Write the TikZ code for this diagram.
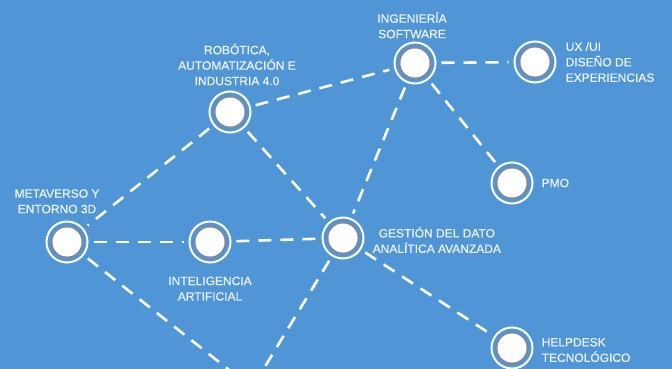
\documentclass[tikz,border=0pt]{standalone}
\usepackage{fontspec}
\setmainfont{Liberation Sans}
\usetikzlibrary{positioning}
\definecolor{figFondo}{RGB}{80,150,215}
\definecolor{figAnillo}{RGB}{120,138,168}
\definecolor{figTexto}{RGB}{238,243,250}
\tikzset{
  nodo/.style={
    circle, draw=white, line width=2pt, fill=figFondo, minimum size=41pt,
    inner sep=0pt, outer sep=6pt,
    path picture={
      \fill[figAnillo] (path picture bounding box.center) circle (17pt);
      \fill[white] (path picture bounding box.center) circle (14.5pt);
    }
  },
  enlace/.style={draw=white, line width=2.6pt, dash pattern=on 13pt off 9pt},
  etiqueta/.style={
    text=figTexto, inner sep=0pt,
    font=\fontsize{12}{15.5}\selectfont\addfontfeature{FakeBold=0.6}
  }
}
\begin{document}
\begin{tikzpicture}[x=1pt, y=-1pt]
  \fill[figFondo] (0,0) rectangle (672,369);
  \useasboundingbox (0,0) rectangle (672,369);
  \clip (0,0) rectangle (672,369);

  \node[nodo] (rob) at (230,112) {};
  \node[nodo] (ing) at (415,63) {};
  \node[nodo] (ux) at (535,62) {};
  \node[nodo] (pmo) at (512,183) {};
  \node[nodo] (meta) at (67,242) {};
  \node[nodo] (ia) at (210,242) {};
  \node[nodo] (dato) at (343,238) {};
  \node[nodo] (help) at (512,348) {};
  \coordinate (abajo) at (252,388);

  \node[etiqueta, align=center, above=0pt of rob, xshift=7pt] (robtxt)
    {ROBÓTICA,\\AUTOMATIZACIÓN E\\INDUSTRIA 4.0};
  \node[etiqueta, align=center, above=-2pt of ing, xshift=-3pt] (ingtxt)
    {INGENIERÍA\\SOFTWARE};
  \node[etiqueta, align=left, right=4pt of ux] (uxtxt)
    {UX /UI\\DISEÑO DE\\EXPERIENCIAS};
  \node[etiqueta, right=3pt of pmo] (pmotxt) {PMO};
  \node[etiqueta, align=center, above=2pt of meta, xshift=-10pt] (metatxt)
    {METAVERSO Y\\ENTORNO 3D};
  \node[etiqueta, align=center, below=8pt of ia] (iatxt)
    {INTELIGENCIA\\ARTIFICIAL};
  \node[etiqueta, align=center, right=3pt of dato, yshift=-2pt] (datotxt)
    {GESTIÓN DEL DATO\\ANALÍTICA AVANZADA};
  \node[etiqueta, align=left, right=3pt of help, yshift=-2pt] (helptxt)
    {HELPDESK\\TECNOLÓGICO};

  \draw[enlace] (rob) -- (ing);
  \draw[enlace] (rob) -- (meta);
  \draw[enlace] (rob) -- (dato);
  \draw[enlace] (ing) -- (ux);
  \draw[enlace] (ing) -- (pmo);
  \draw[enlace] (ing) -- (dato);
  \draw[enlace] (meta) -- (ia);
  \draw[enlace] (ia) -- (dato);
  \draw[enlace] (dato) -- (help);
  \draw[enlace] (meta) -- (abajo);
  \draw[enlace] (dato) -- (abajo);
\end{tikzpicture}
\end{document}
